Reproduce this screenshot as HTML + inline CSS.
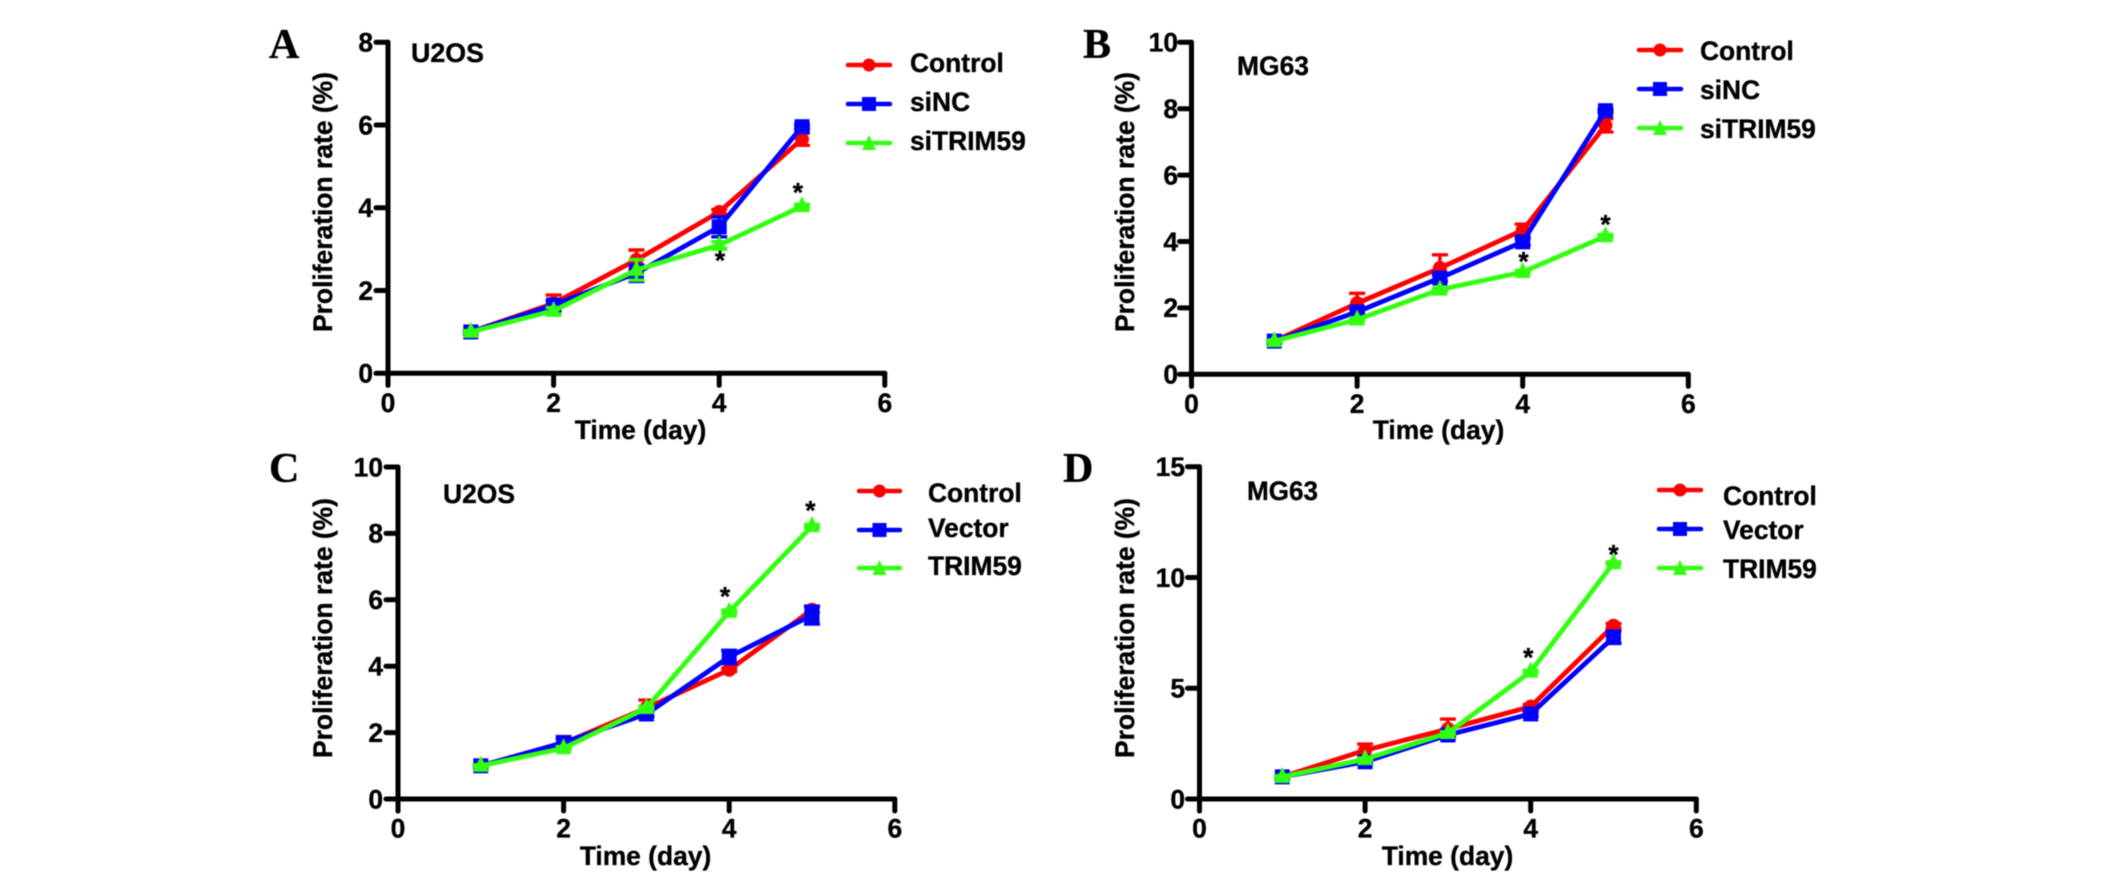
<!DOCTYPE html>
<html lang="en">
<head>
<meta charset="utf-8">
<title>Proliferation rate panels</title>
<style>
html,body{margin:0;padding:0;background:#fff;width:2126px;height:875px;overflow:hidden}
svg{display:block;filter:blur(0.65px)}
text{font-family:"Liberation Sans",Arial,sans-serif;font-weight:bold;fill:#000;font-size:26.4px;stroke:#000;stroke-width:0.35px}
.letter{font-family:"Liberation Serif","Times New Roman",serif;font-size:42px}
</style>
</head>
<body>
<svg id="figure" width="2126" height="875" viewBox="0 0 2126 875" xmlns="http://www.w3.org/2000/svg">
  <rect width="2126" height="875" fill="#fff"/>

  <g id="panel-a">
    <text class="letter" x="269" y="58">A</text>
    <text x="411" y="62" textLength="73" lengthAdjust="spacingAndGlyphs">U2OS</text>
    <text transform="translate(332,332) rotate(-90)" textLength="260" lengthAdjust="spacingAndGlyphs">Proliferation rate (%)</text>
    <text x="640.5" y="439" text-anchor="middle">Time (day)</text>
  </g>
  <g id="panel-b">
    <text class="letter" x="1083" y="58">B</text>
    <text x="1237" y="75" textLength="72" lengthAdjust="spacingAndGlyphs">MG63</text>
    <text transform="translate(1134,332) rotate(-90)" textLength="260" lengthAdjust="spacingAndGlyphs">Proliferation rate (%)</text>
    <text x="1438.5" y="439" text-anchor="middle">Time (day)</text>
  </g>
  <g id="panel-c">
    <text class="letter" x="269" y="482">C</text>
    <text x="443" y="503" textLength="72" lengthAdjust="spacingAndGlyphs">U2OS</text>
    <text transform="translate(332,758) rotate(-90)" textLength="260" lengthAdjust="spacingAndGlyphs">Proliferation rate (%)</text>
    <text x="645.5" y="865" text-anchor="middle">Time (day)</text>
  </g>
  <g id="panel-d">
    <text class="letter" x="1063" y="482">D</text>
    <text x="1247" y="500" textLength="71" lengthAdjust="spacingAndGlyphs">MG63</text>
    <text transform="translate(1134,758) rotate(-90)" textLength="260" lengthAdjust="spacingAndGlyphs">Proliferation rate (%)</text>
    <text x="1447.5" y="865" text-anchor="middle">Time (day)</text>
  </g>

  <g>
    <g><path d="M848 65H890" stroke="#ff0000" stroke-width="4.5" stroke-linecap="round"/><circle cx="869" cy="65" r="6.5" fill="#ff0000"/><text x="910" y="72">Control</text></g>
    <g><path d="M848 104H890" stroke="#0000ff" stroke-width="4.5" stroke-linecap="round"/><rect x="862" y="97" width="14" height="14" fill="#0000ff"/><text x="910" y="111">siNC</text></g>
    <g><path d="M848 143H890" stroke="#33ff11" stroke-width="4.5" stroke-linecap="round"/><polygon points="869,135 876,150 862,150" fill="#33ff11"/><text x="910" y="150">siTRIM59</text></g>
  </g>
  <g>
    <g><path d="M1639 50H1681" stroke="#ff0000" stroke-width="4.5" stroke-linecap="round"/><circle cx="1660" cy="50" r="6.5" fill="#ff0000"/><text x="1700" y="60">Control</text></g>
    <g><path d="M1639 89H1681" stroke="#0000ff" stroke-width="4.5" stroke-linecap="round"/><rect x="1653" y="82" width="14" height="14" fill="#0000ff"/><text x="1700" y="99">siNC</text></g>
    <g><path d="M1639 128H1681" stroke="#33ff11" stroke-width="4.5" stroke-linecap="round"/><polygon points="1660,120 1667,135 1653,135" fill="#33ff11"/><text x="1700" y="138">siTRIM59</text></g>
  </g>
  <g>
    <g><path d="M859 491H900" stroke="#ff0000" stroke-width="4.5" stroke-linecap="round"/><circle cx="879.5" cy="491" r="6.5" fill="#ff0000"/><text x="928" y="502">Control</text></g>
    <g><path d="M859 530H900" stroke="#0000ff" stroke-width="4.5" stroke-linecap="round"/><rect x="872.5" y="523" width="14" height="14" fill="#0000ff"/><text x="928" y="537">Vector</text></g>
    <g><path d="M859 568H900" stroke="#33ff11" stroke-width="4.5" stroke-linecap="round"/><polygon points="879.5,560 886.5,575 872.5,575" fill="#33ff11"/><text x="928" y="575">TRIM59</text></g>
  </g>
  <g>
    <g><path d="M1659 490H1701" stroke="#ff0000" stroke-width="4.5" stroke-linecap="round"/><circle cx="1680" cy="490" r="6.5" fill="#ff0000"/><text x="1723" y="505">Control</text></g>
    <g><path d="M1659 529H1701" stroke="#0000ff" stroke-width="4.5" stroke-linecap="round"/><rect x="1673" y="522" width="14" height="14" fill="#0000ff"/><text x="1723" y="539">Vector</text></g>
    <g><path d="M1659 568H1701" stroke="#33ff11" stroke-width="4.5" stroke-linecap="round"/><polygon points="1680,560 1687,575 1673,575" fill="#33ff11"/><text x="1723" y="578">TRIM59</text></g>
  </g>
</svg>
<script>
const days = [1, 2, 3, 4, 5];
const xTickLabels = [0, 2, 4, 6];

const yTicksA = [0, 2, 4, 6, 8];
const controlA = [1.0, 1.69, 2.74, 3.9, 5.66];
const controlErrA = [0.03, 0.2, 0.24, 0.06, 0.15];
const sincA = [1.0, 1.65, 2.42, 3.54, 5.96];
const sincErrA = [0.03, 0.1, 0.2, 0.24, 0.05];
const sitrimA = [1.0, 1.51, 2.5, 3.1, 4.04];
const sitrimErrA = [0.03, 0.08, 0.25, 0.08, 0.04];
const starDaysA = [4.01, 4.95];
const starLevelsA = [2.81, 4.45];

const yTicksB = [0, 2, 4, 6, 8, 10];
const controlB = [1.0, 2.14, 3.2, 4.34, 7.5];
const controlErrB = [0.03, 0.3, 0.4, 0.18, 0.2];
const sincB = [1.0, 1.88, 2.9, 3.99, 7.94];
const sincErrB = [0.03, 0.1, 0.1, 0.1, 0.05];
const sitrimB = [1.0, 1.65, 2.55, 3.08, 4.16];
const sitrimErrB = [0.03, 0.05, 0.05, 0.05, 0.05];
const starDaysB = [4.01, 5.0];
const starLevelsB = [3.5, 4.62];

const yTicksC = [0, 2, 4, 6, 8, 10];
const controlC = [1.0, 1.68, 2.74, 3.89, 5.7];
const controlErrC = [0.03, 0.2, 0.24, 0.05, 0.08];
const vectorC = [1.0, 1.7, 2.56, 4.28, 5.54];
const vectorErrC = [0.03, 0.12, 0.08, 0.2, 0.27];
const trimC = [1.0, 1.53, 2.74, 5.64, 8.22];
const trimErrC = [0.03, 0.05, 0.05, 0.05, 0.05];
const starDaysC = [3.95, 4.98];
const starLevelsC = [6.2, 8.8];

const yTicksD = [0, 5, 10, 15];
const controlD = [1.0, 2.2, 3.16, 4.17, 7.82];
const controlErrD = [0.05, 0.28, 0.45, 0.1, 0.1];
const vectorD = [1.0, 1.68, 2.89, 3.84, 7.3];
const vectorErrD = [0.05, 0.1, 0.1, 0.1, 0.28];
const trimD = [1.0, 1.8, 2.98, 5.75, 10.65];
const trimErrD = [0.05, 0.05, 0.05, 0.05, 0.05];
const starDaysD = [3.97, 5.0];
const starLevelsD = [6.55, 11.2];

const RED = '#ff0000', BLUE = '#0000ff', GREEN = '#33ff11';
const NS = 'http://www.w3.org/2000/svg';

function make(tag, attrs, parent) {
  const n = document.createElementNS(NS, tag);
  for (const k in attrs) n.setAttribute(k, attrs[k]);
  parent.appendChild(n);
  return n;
}

function drawPanel(id, frame, yTicks, series, starDays, starLevels) {
  const root = document.getElementById(id);
  const yMax = yTicks[yTicks.length - 1];
  const xScale = d => frame.x0 + d * frame.xUnit;
  const yScale = v => frame.y0 - v * (frame.y0 - frame.yTop) / yMax;
  const xEnd = xScale(xTickLabels[xTickLabels.length - 1]);

  const axes = make('g', {stroke: '#000', 'stroke-width': 5, fill: 'none', 'stroke-linecap': 'round', 'stroke-linejoin': 'round'}, root);
  
  

  const yLine = make('path', {d: 'M' + frame.x0 + ' ' + frame.yTop + 'V' + (frame.y0 + 12)}, axes);
  
  

  const xLine = make('path', {d: 'M' + frame.x0 + ' ' + frame.y0 + 'H' + xEnd}, axes);
  
  

  yTicks.forEach(function (t) {
    const tick = make('path', {d: 'M' + (frame.x0 - 12) + ' ' + yScale(t) + 'H' + frame.x0}, axes);
    
    
    const label = make('text', {x: frame.labelRight, y: yScale(t) + 9.3, 'text-anchor': 'end'}, root);
    label.textContent = t;
    
    
  });

  xTickLabels.forEach(function (t) {
    const tick = make('path', {d: 'M' + xScale(t) + ' ' + frame.y0 + 'V' + (frame.y0 + 12)}, axes);
    
    
    const label = make('text', {x: xScale(t), y: frame.y0 + 38.5, 'text-anchor': 'middle'}, root);
    label.textContent = t;
    
    
  });

  series.forEach(function (s) {
    const group = make('g', {}, root);
    
    

    days.forEach(function (d, i) {
      const x = xScale(d), hi = yScale(s.values[i] + s.errs[i]), lo = yScale(s.values[i] - s.errs[i]);
      const bar = make('path', {d: 'M' + x + ' ' + hi + 'V' + lo + 'M' + (x - 8) + ' ' + hi + 'H' + (x + 8) + 'M' + (x - 8) + ' ' + lo + 'H' + (x + 8), stroke: s.color, 'stroke-width': 3.4, fill: 'none'}, group);
      
      
    });

    const pts = days.map(function (d, i) { return xScale(d) + ',' + yScale(s.values[i]); }).join(' ');
    const line = make('polyline', {points: pts, fill: 'none', stroke: s.color, 'stroke-width': 4.8, 'stroke-linejoin': 'round'}, group);
    
    

    days.forEach(function (d, i) {
      const x = xScale(d), y = yScale(s.values[i]);
      let m;
      if (s.shape === 'circle') {
        m = make('circle', {cx: x, cy: y, r: 7, fill: s.color}, group);
      } else if (s.shape === 'square') {
        m = make('rect', {x: x - 7.5, y: y - 7.5, width: 15, height: 15, fill: s.color}, group);
      } else {
        m = make('polygon', {points: x + ',' + (y - 10) + ' ' + (x + 8) + ',' + (y + 6) + ' ' + (x - 8) + ',' + (y + 6), fill: s.color}, group);
      }
      
      
    });
  });

  starDays.forEach(function (d, i) {
    const star = make('text', {x: xScale(d), y: yScale(starLevels[i]) + 12.5, 'text-anchor': 'middle'}, root);
    star.textContent = '*';
    
    
  });
}

drawPanel('panel-a', {x0: 388, xUnit: 82.8, y0: 373.3, yTop: 42.3, labelRight: 373}, yTicksA, [
  {name: 'control', color: RED, shape: 'circle', values: controlA, errs: controlErrA},
  {name: 'sinc', color: BLUE, shape: 'square', values: sincA, errs: sincErrA},
  {name: 'sitrim59', color: GREEN, shape: 'triangle', values: sitrimA, errs: sitrimErrA}
], starDaysA, starLevelsA);

drawPanel('panel-b', {x0: 1191.5, xUnit: 82.8, y0: 374.3, yTop: 42.3, labelRight: 1178}, yTicksB, [
  {name: 'control', color: RED, shape: 'circle', values: controlB, errs: controlErrB},
  {name: 'sinc', color: BLUE, shape: 'square', values: sincB, errs: sincErrB},
  {name: 'sitrim59', color: GREEN, shape: 'triangle', values: sitrimB, errs: sitrimErrB}
], starDaysB, starLevelsB);

drawPanel('panel-c', {x0: 398, xUnit: 82.8, y0: 799, yTop: 467, labelRight: 383}, yTicksC, [
  {name: 'control', color: RED, shape: 'circle', values: controlC, errs: controlErrC},
  {name: 'vector', color: BLUE, shape: 'square', values: vectorC, errs: vectorErrC},
  {name: 'trim59', color: GREEN, shape: 'triangle', values: trimC, errs: trimErrC}
], starDaysC, starLevelsC);

drawPanel('panel-d', {x0: 1199.5, xUnit: 82.8, y0: 799, yTop: 466.7, labelRight: 1185}, yTicksD, [
  {name: 'control', color: RED, shape: 'circle', values: controlD, errs: controlErrD},
  {name: 'vector', color: BLUE, shape: 'square', values: vectorD, errs: vectorErrD},
  {name: 'trim59', color: GREEN, shape: 'triangle', values: trimD, errs: trimErrD}
], starDaysD, starLevelsD);
</script>
</body>
</html>
